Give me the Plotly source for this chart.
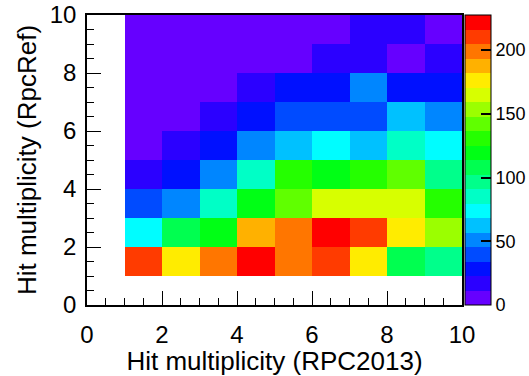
import plotly.graph_objects as go

# bin edges
x_edges = [0, 1, 2, 3, 4, 5, 6, 7, 8, 9, 10]
y_edges = [0, 1, 2, 3, 4, 5, 6, 7, 8, 9, 10]

# counts per bin, rows = y bins (0-1 ... 9-10), columns = x bins (0-1 ... 9-10); None = empty
row_y0 = [None] * 10
row_y1 = [None, 210, 176, 199, 222, 199, 210, 176, 108, 97]
row_y2 = [None, 74, 108, 120, 188, 199, 222, 210, 176, 154]
row_y3 = [None, 40, 51, 85, 120, 142, 165, 165, 165, 131]
row_y4 = [None, 17, 28, 51, 85, 131, 120, 131, 142, 97]
row_y5 = [None, 5, 17, 28, 51, 63, 74, 63, 85, 74]
row_y6 = [None, 5, 5, 17, 28, 40, 40, 40, 63, 51]
row_y7 = [None, 5, 5, 5, 17, 28, 28, 51, 28, 28]
row_y8 = [None, 5, 5, 5, 5, 5, 17, 17, 5, 17]
row_y9 = [None, 5, 5, 5, 5, 5, 5, 17, 17, 5]
z_counts = [row_y0, row_y1, row_y2, row_y3, row_y4, row_y5, row_y6, row_y7, row_y8, row_y9]

z_min = 0
z_max = 227.5
x_ticks = [0, 2, 4, 6, 8, 10]
y_ticks = [0, 2, 4, 6, 8, 10]
cb_ticks = [0, 50, 100, 150, 200]

x_title = "Hit multiplicity (RPC2013)"
y_title = "Hit multiplicity (RpcRef)"

palette = ["#6600FF", "#2B00FF", "#0010FF", "#004BFF", "#0086FF", "#00C1FF", "#00FDFF",
           "#00FFC6", "#00FF8B", "#00FF50", "#00FF15", "#25FF00", "#60FF00", "#9BFF00",
           "#D7FF00", "#FFEC00", "#FFB100", "#FF7600", "#FF3B00", "#FF0000"]

n = len(palette)
colorscale = []
for k, c in enumerate(palette):
    colorscale.append([k / n, c])
    colorscale.append([(k + 1) / n, c])

FONT = "Liberation Sans, Arial, Helvetica, sans-serif"

L, R, T, B = 87, 67, 15, 71
plot_w = 529 - L - R

fig = go.Figure()
fig.add_trace(go.Heatmap(
    x=x_edges, y=y_edges, z=z_counts,
    zmin=z_min, zmax=z_max, colorscale=colorscale,
    hoverongaps=False,
    colorbar=dict(
        x=(465 - L) / plot_w, xanchor="left", xref="paper",
        y=0.5, yanchor="middle", len=1, lenmode="fraction",
        thickness=26, thicknessmode="pixels",
        xpad=0, ypad=0,
        outlinewidth=1, outlinecolor="black",
        tickmode="array", tickvals=cb_ticks,
        tickprefix="\u00a0",
        ticks="inside", ticklen=10, tickwidth=1.5, tickcolor="black",
        tickfont=dict(family=FONT, size=18, color="black"),
    ),
))

axis_common = dict(
    range=[0, 10], showgrid=False, zeroline=False,
    showline=True, linecolor="black", linewidth=1.5, mirror=True,
    ticks="inside", ticklen=14, tickwidth=1.2, tickcolor="black",
    tickfont=dict(family=FONT, size=24, color="black"),
    minor=dict(dtick=0.5, ticks="inside", ticklen=7, tickcolor="black", tickwidth=1),
)

fig.update_layout(
    width=529, height=376,
    margin=dict(l=L, r=R, t=T, b=B, autoexpand=False),
    paper_bgcolor="white", plot_bgcolor="white",
    font=dict(family=FONT, color="black"),
    xaxis=dict(**axis_common, tickvals=x_ticks, ticklabelstandoff=7, automargin=False,
               title=dict(text=x_title, font=dict(family=FONT, size=26, color="black"), standoff=4)),
    yaxis=dict(**axis_common, tickvals=y_ticks, ticklabelstandoff=4, automargin=False,
               title=dict(text=y_title, font=dict(family=FONT, size=26, color="black"), standoff=6)),
)

fig.write_html("out.html")
